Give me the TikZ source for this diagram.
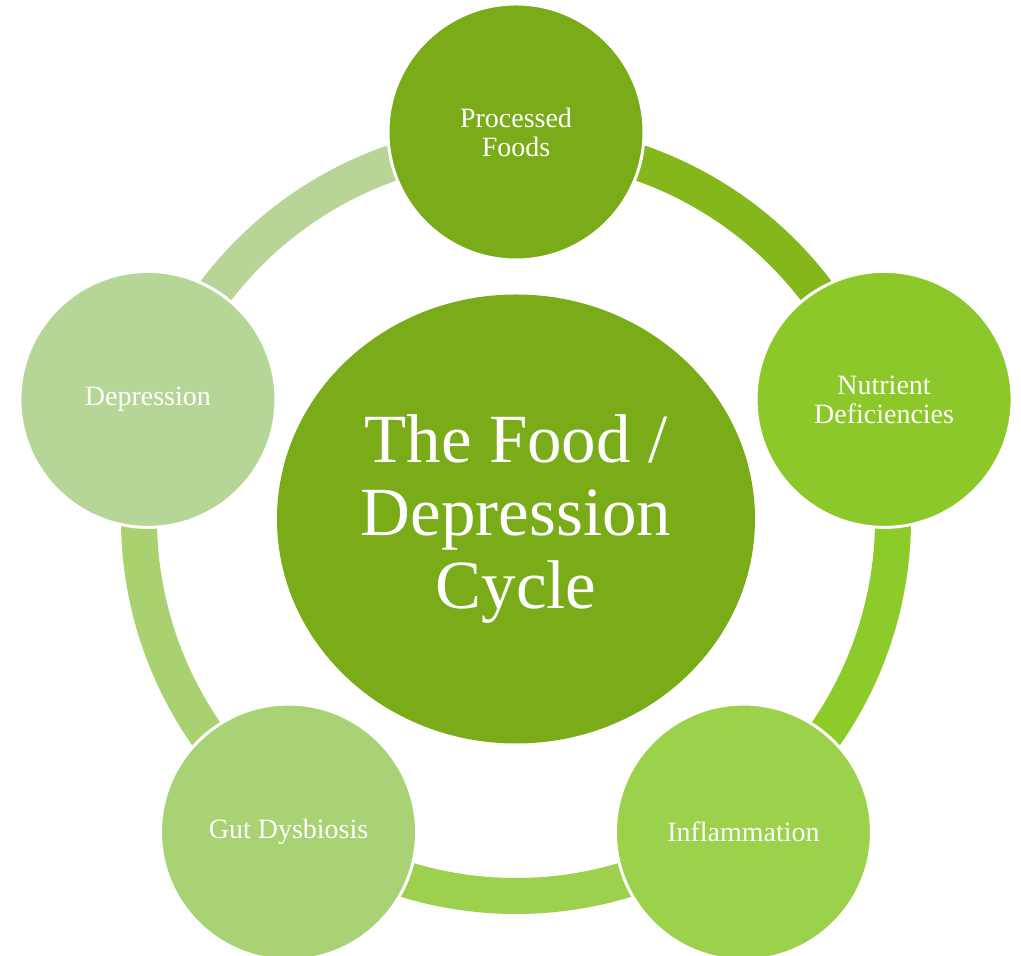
\documentclass[tikz,border=0pt]{standalone}
\usepackage{fontspec}
\setmainfont{Liberation Serif}
\usetikzlibrary{shapes.geometric,backgrounds,calc}

\definecolor{foodgreen}{RGB}{122,171,25}
\definecolor{foodarc}{RGB}{132,183,27}
\definecolor{nutrgreen}{RGB}{140,200,41}
\definecolor{nutrarc}{RGB}{141,203,42}
\definecolor{inflgreen}{RGB}{155,209,75}
\definecolor{inflarc}{RGB}{157,209,77}
\definecolor{gutgreen}{RGB}{168,210,115}
\definecolor{gutarc}{RGB}{169,209,112}
\definecolor{depgreen}{RGB}{182,214,152}
\definecolor{deparc}{RGB}{184,213,151}

\begin{document}
\begin{tikzpicture}[x=0.5pt,y=0.5pt]
  \tikzset{bubble/.style={circle, draw=white, line width=1.5pt, inner sep=0pt, minimum size=128pt,
      text=white, align=center, font=\fontsize{14}{14.5}\selectfont},
    ringpart/.style={line width=18pt}}
  \useasboundingbox (-516,-437) rectangle (505,519);

  \node[ellipse, fill=foodgreen, inner sep=0pt, minimum width=239pt, minimum height=224.5pt,
    text=white, align=center, font=\fontsize{34.5}{36.5}\selectfont] at (0,0) (hub)
    {The Food /\\Depression\\Cycle};

  \node[bubble, fill=foodgreen] at (90:387) (food) {Processed\\Foods};
  \node[bubble, fill=nutrgreen] at (18:387) (nutr) {Nutrient\\Deficiencies};
  \node[bubble, fill=inflgreen] at (-54:387) (infl) {Inflammation};
  \node[bubble, fill=gutgreen] at (-126:387) (gut) {Gut Dysbiosis};
  \node[bubble, fill=depgreen] at (162:387) (dep) {Depression};

  % ring behind the circles, a little inside the centres
  \begin{scope}[on background layer]
    \draw[ringpart, foodarc] ($(food)!5pt!(hub)$) arc[start angle=90, end angle=18, radius=377];
    \draw[ringpart, nutrarc] ($(nutr)!5pt!(hub)$) arc[start angle=18, end angle=-54, radius=377];
    \draw[ringpart, inflarc] ($(infl)!5pt!(hub)$) arc[start angle=-54, end angle=-126, radius=377];
    \draw[ringpart, gutarc] ($(gut)!5pt!(hub)$) arc[start angle=-126, end angle=-198, radius=377];
    \draw[ringpart, deparc] ($(dep)!5pt!(hub)$) arc[start angle=162, end angle=90, radius=377];
  \end{scope}
\end{tikzpicture}
\end{document}
